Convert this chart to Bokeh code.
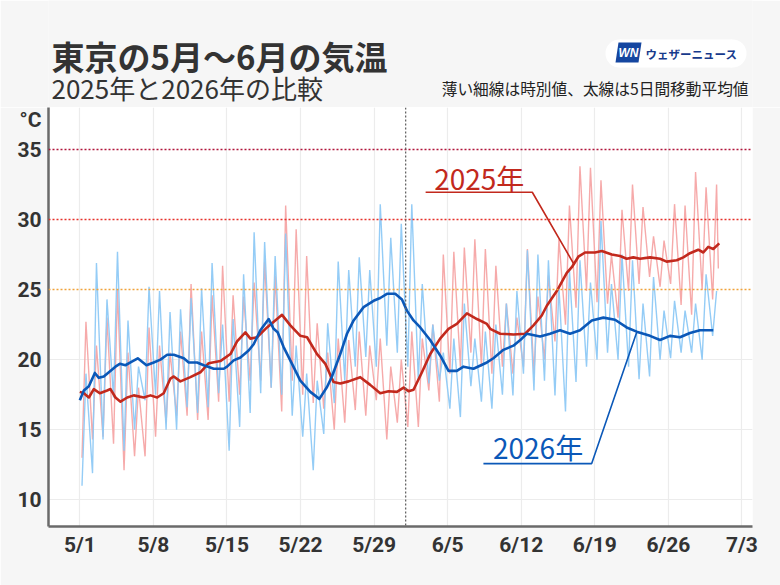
import numpy as np
from bokeh.plotting import figure
from bokeh.layouts import column
from bokeh.models import Span, Label, FixedTicker, Range1d
from bokeh.embed import file_html
from bokeh.resources import INLINE

# x is measured in days since May 1 (00:00)
tick_days = [0, 7, 14, 21, 28, 35, 42, 49, 56, 63]
tick_labels = ["5/1", "5/8", "5/15", "5/22", "5/29", "6/5", "6/12", "6/19", "6/26", "7/3"]
y_ticks = [10, 15, 20, 25, 30, 35]
unit_tick, unit_label = 37.3, "°C"

# daily lows / highs of the hourly readings, May 1 - June 30
low_2025 = [13.0, 14.3, 14.5, 14.0, 12.1, 13.1, 13.1, 14.5, 15.5, 16.0,
            16.0, 15.7, 15.7, 17.0, 17.0, 17.5, 18.5, 18.5, 18.0, 16.3,
            18.5, 17.5, 16.9, 16.5, 15.0, 15.5, 16.4, 16.0, 17.1, 14.3,
            15.5, 15.2, 15.2, 17.8, 17.0, 19.0, 19.5, 20.5, 19.5, 19.0,
            19.5, 19.0, 19.5, 19.0, 20.0, 21.3, 22.5, 23.7, 24.9, 24.1,
            24.0, 23.0, 24.9, 25.4, 25.9, 25.2, 25.4, 23.9, 23.2, 25.0,
            24.3]
high_2025 = [22.7, 21.0, 23.0, 25.0, 20.5, 18.0, 22.3, 21.0, 20.5, 22.0,
             25.4, 22.0, 24.6, 26.7, 24.6, 24.5, 25.5, 27.0, 26.0, 31.0,
             29.3, 27.4, 22.6, 20.5, 21.5, 21.4, 22.0, 21.0, 21.5, 19.5,
             20.0, 22.0, 21.5, 22.5, 27.5, 27.7, 28.0, 28.6, 27.9, 26.7,
             24.0, 23.0, 27.9, 24.5, 26.0, 28.6, 31.0, 33.8, 33.7, 32.8,
             27.5, 30.7, 32.5, 30.9, 28.8, 28.5, 31.1, 31.0, 33.4, 32.3,
             32.5]
last_2025 = 26.5

low_2026 = [11.0, 11.9, 14.3, 17.3, 13.5, 15.0, 17.1, 17.5, 15.0, 15.0,
            16.6, 16.2, 16.6, 17.6, 13.5, 15.2, 16.2, 17.6, 18.0, 17.5,
            16.0, 14.5, 12.1, 14.7, 16.9, 18.5, 19.5, 20.2, 19.5, 21.0,
            20.5, 19.5, 18.5, 18.3, 18.5, 16.5, 15.9, 18.1, 17.0, 16.5,
            17.5, 17.45, 19.0, 17.8, 18.5, 17.45, 16.3, 18.4, 19.5, 20.0,
            20.5, 20.0, 19.5, 18.6, 18.8, 20.0, 20.1, 20.5, 20.5, 20.0,
            21.7]
high_2026 = [19.0, 26.9, 24.3, 27.7, 22.8, 19.5, 25.2, 24.9, 23.4, 23.6,
             24.4, 25.1, 26.9, 22.5, 22.9, 26.1, 29.1, 28.4, 27.4, 29.0,
             21.0, 19.0, 18.5, 22.6, 27.0, 26.4, 27.3, 26.4, 31.1, 28.7,
             29.7, 31.1, 25.4, 22.5, 20.5, 21.5, 24.0, 21.5, 22.0, 22.5,
             24.0, 24.9, 27.8, 27.5, 27.1, 25.2, 26.4, 27.1, 25.5, 29.9,
             25.4, 27.5, 27.1, 24.0, 25.9, 23.5, 24.2, 23.5, 24.0, 26.1,
             24.9]

# 5-day moving averages (day offset, deg C)
ma_2025_day = [0.0, 0.38, 0.86, 1.33, 1.9, 2.6, 2.92, 3.39, 3.87, 4.51,
               5.13, 6.08, 6.72, 7.36, 7.98, 8.62, 8.94, 9.57, 10.52, 11.47,
               12.26, 13.37, 14.33, 14.96, 15.75, 16.23, 16.86, 17.81, 19.24, 20.03,
               20.98, 21.62, 22.57, 23.36, 24.14, 24.78, 25.57, 26.68, 27.63, 28.58,
               29.37, 30.17, 30.8, 31.27, 31.75, 32.55, 33.34, 34.28, 35.08, 35.87,
               36.83, 37.78, 38.73, 39.04, 39.99, 41.25, 42.37, 43.16, 43.95, 44.43,
               45.38, 46.33, 46.81, 47.43, 48.07, 49.02, 49.66, 50.61, 51.4, 52.03,
               52.66, 53.3, 54.25, 55.2, 55.83, 56.79, 57.42, 58.05, 58.84, 59.32,
               59.79, 60.27, 60.84]
ma_2025_val = [17.7, 17.6, 17.3, 17.9, 17.6, 17.8, 17.9, 17.3, 17.0, 17.3,
               17.45, 17.3, 17.45, 17.3, 17.6, 18.65, 18.8, 18.45, 18.75, 19.1,
               19.75, 19.9, 20.4, 21.3, 21.95, 21.5, 21.6, 22.3, 23.2, 22.45,
               21.7, 21.6, 20.4, 19.7, 18.4, 18.3, 18.45, 18.75, 18.2, 17.6,
               17.75, 17.7, 18.0, 17.75, 17.85, 19.1, 20.4, 21.5, 22.2, 22.55,
               23.3, 22.9, 22.55, 22.2, 21.85, 21.8, 21.85, 22.45, 23.15, 23.85,
               24.9, 26.2, 26.6, 27.35, 27.65, 27.65, 27.75, 27.5, 27.4, 27.2,
               27.3, 27.2, 27.3, 27.2, 27.0, 27.1, 27.3, 27.6, 27.85, 27.65,
               28.05, 27.9, 28.3]

ma_2026_day = [0.0, 0.38, 0.86, 1.43, 1.81, 2.28, 3.39, 3.8, 4.34, 4.82,
               5.51, 6.34, 7.03, 7.67, 8.31, 8.94, 9.89, 10.36, 11.16, 11.79,
               12.74, 13.69, 14.01, 14.64, 15.28, 16.06, 16.54, 17.18, 17.97, 18.44,
               18.82, 19.39, 20.19, 20.98, 21.93, 22.79, 23.52, 23.99, 24.78, 25.42,
               26.05, 27.0, 27.95, 28.58, 29.22, 30.01, 30.65, 31.12, 31.75, 32.39,
               33.33, 34.28, 35.08, 35.87, 36.5, 37.45, 38.73, 39.35, 40.3, 41.25,
               42.05, 42.53, 43.79, 44.74, 45.69, 46.64, 47.59, 48.71, 49.81, 50.92,
               52.03, 52.98, 54.25, 55.2, 56.15, 57.1, 58.05, 59.0, 60.27]
ma_2026_val = [17.1, 17.8, 18.1, 19.05, 18.7, 18.8, 19.5, 19.7, 19.6, 19.8,
               20.1, 19.6, 19.8, 20.0, 20.35, 20.35, 20.1, 19.8, 19.8, 19.6,
               19.35, 19.35, 19.5, 19.95, 20.15, 20.65, 21.1, 22.1, 22.9, 22.2,
               21.95, 20.9, 19.7, 18.5, 17.7, 17.2, 18.05, 18.8, 20.4, 21.85,
               22.8, 23.75, 24.2, 24.4, 24.7, 24.7, 24.3, 23.5, 22.8, 22.3,
               21.4, 20.3, 19.2, 19.2, 19.5, 19.35, 19.8, 20.1, 20.7, 21.0,
               21.5, 21.85, 21.65, 21.85, 22.1, 21.85, 22.1, 22.8, 23.0, 22.85,
               22.3, 22.0, 21.7, 21.4, 21.7, 21.6, 21.9, 22.1, 22.1]

LOW_HOUR, HIGH_HOUR, LAST_HOUR = 5, 14, 18


def hourly_trace(lows, highs, last=None):
    t, v = [], []
    for d, (lo, hi) in enumerate(zip(lows, highs)):
        t += [d + LOW_HOUR / 24, d + HIGH_HOUR / 24]
        v += [lo, hi]
    if last is not None:
        t.append(len(lows) - 1 + LAST_HOUR / 24)
        v.append(last)
    return t, v


RED_THIN, BLUE_THIN = "#f5a5a5", "#8ec9f6"
RED, BLUE = "#c2291d", "#0b58b8"
PAGE = "#f6f6f6"
CJK = "Noto Sans CJK JP"
NUM = "Roboto"

W, H, HEAD = 780, 585, 107
FL, FR = 48, 752   # left / right edge of the plotting frame

# ---------- heading strip (page pixel coordinates, y downward) ----------
head = figure(width=W, height=HEAD, x_range=Range1d(FL, FR), y_range=Range1d(HEAD, 0),
              x_axis_type=None, y_axis_type=None, title=None,
              output_backend="svg", toolbar_location=None,
              min_border_left=FL, min_border_right=W - FR, min_border_top=0, min_border_bottom=0,
              background_fill_color=PAGE, border_fill_color=PAGE)
head.outline_line_color = None
head.grid.visible = False

head.add_layout(Label(x=51, y=55, text="東京の5月～6月の気温", text_align="left",
                      text_baseline="middle", text_font=CJK, text_font_style="bold",
                      text_font_size="33px", text_color="#333333"))
head.add_layout(Label(x=51, y=87, text="2025年と2026年の比較", text_align="left",
                      text_baseline="middle", text_font=CJK, text_font_size="26px",
                      text_color="#333333"))
head.add_layout(Label(x=748, y=88, text="薄い細線は時別値、太線は5日間移動平均値",
                      text_align="right", text_baseline="middle", text_font=CJK,
                      text_font_size="15.7px", text_color="#222222"))

# brand badge: white pill, blue mark, name
head.rect(x=675.5, y=53, width=113, height=28, fill_color="white", line_color=None)
head.circle(x=[619, 732], y=[53, 53], radius=14, fill_color="white", line_color=None)
head.patch(x=[618, 641, 638, 615], y=[42, 42, 62, 62], fill_color="#1546a0", line_color=None)
head.add_layout(Label(x=628, y=52.5, text="WN", text_align="center", text_baseline="middle",
                      text_font="Liberation Sans", text_font_style="bold italic",
                      text_font_size="12px", text_color="white"))
head.add_layout(Label(x=645, y=53, text="ウェザーニュース", text_align="left",
                      text_baseline="middle", text_font=CJK, text_font_style="bold",
                      text_font_size="11.5px", text_color="#173a8c"))

# ---------- temperature chart ----------
X0, X1 = -2.98, 64.0
Y0, Y1 = 8.09, 38.0
p = figure(width=W, height=H - HEAD, x_range=Range1d(X0, X1), y_range=Range1d(Y0, Y1),
           title=None, output_backend="svg", toolbar_location=None,
           min_border_left=FL, min_border_right=W - FR, min_border_top=0, min_border_bottom=59,
           background_fill_color="white", border_fill_color=PAGE)
p.outline_line_color = None

p.xaxis.ticker = FixedTicker(ticks=tick_days)
p.xaxis.major_label_overrides = {d: s for d, s in zip(tick_days, tick_labels)}
p.yaxis.ticker = FixedTicker(ticks=y_ticks + [unit_tick])
p.yaxis.major_label_overrides = {unit_tick: unit_label}
for ax in (p.xaxis[0], p.yaxis[0]):
    ax.axis_line_color = "#6a6a6a"
    ax.axis_line_width = 2.5
    ax.major_tick_line_color = None
    ax.minor_tick_line_color = None
    ax.major_label_text_font = NUM
    ax.major_label_text_font_style = "bold"
    ax.major_label_text_font_size = "21px"
    ax.major_label_text_color = "#333333"
p.xaxis.major_label_standoff = 0
p.yaxis.major_label_standoff = 1

p.xgrid.ticker = FixedTicker(ticks=tick_days)
p.ygrid.ticker = FixedTicker(ticks=[10, 15, 20])
p.xgrid.grid_line_color = "#ececec"
p.ygrid.grid_line_color = "#ececec"
p.xgrid.grid_line_width = 1.2
p.ygrid.grid_line_width = 1.2

# threshold lines at 25 / 30 / 35 deg C
for level, col in [(25, "#f0a23a"), (30, "#e5302a"), (35, "#b0143a")]:
    p.add_layout(Span(location=level, dimension="width", line_color=col,
                      line_dash="2 2", line_width=1.5))
# boundary between May and June
p.add_layout(Span(location=31, dimension="height", line_color="#666666",
                  line_dash="2 2", line_width=1.3))

# hourly traces
t25, v25 = hourly_trace(low_2025, high_2025, last_2025)
t26, v26 = hourly_trace(low_2026, high_2026)
p.line(t25, v25, line_color=RED_THIN, line_width=1.4, line_alpha=0.95)
p.line(t26, v26, line_color=BLUE_THIN, line_width=1.4, line_alpha=0.95)

# moving averages
p.line(ma_2025_day, ma_2025_val, line_color=RED, line_width=2.6, line_join="round")
p.line(ma_2026_day, ma_2026_val, line_color=BLUE, line_width=2.6, line_join="round")

# series labels with leader lines to the averaged curves
lead_25 = 47.0
lead_26 = 53.0
p.line([32.9, 43.05, lead_25],
       [31.95, 31.95, float(np.interp(lead_25, ma_2025_day, ma_2025_val))],
       line_color=RED, line_width=1.6)
p.line([38.4, 48.7, lead_26],
       [12.58, 12.58, float(np.interp(lead_26, ma_2026_day, ma_2026_val))],
       line_color=BLUE, line_width=1.6)
p.add_layout(Label(x=38.0, y=33.0, text="2025年", text_align="center", text_baseline="middle",
                   text_font=CJK, text_font_size="28px", text_color=RED))
p.add_layout(Label(x=43.6, y=13.75, text="2026年", text_align="center", text_baseline="middle",
                   text_font=CJK, text_font_size="28px", text_color=BLUE))

open("out.html", "w").write(file_html(column(head, p), INLINE))
